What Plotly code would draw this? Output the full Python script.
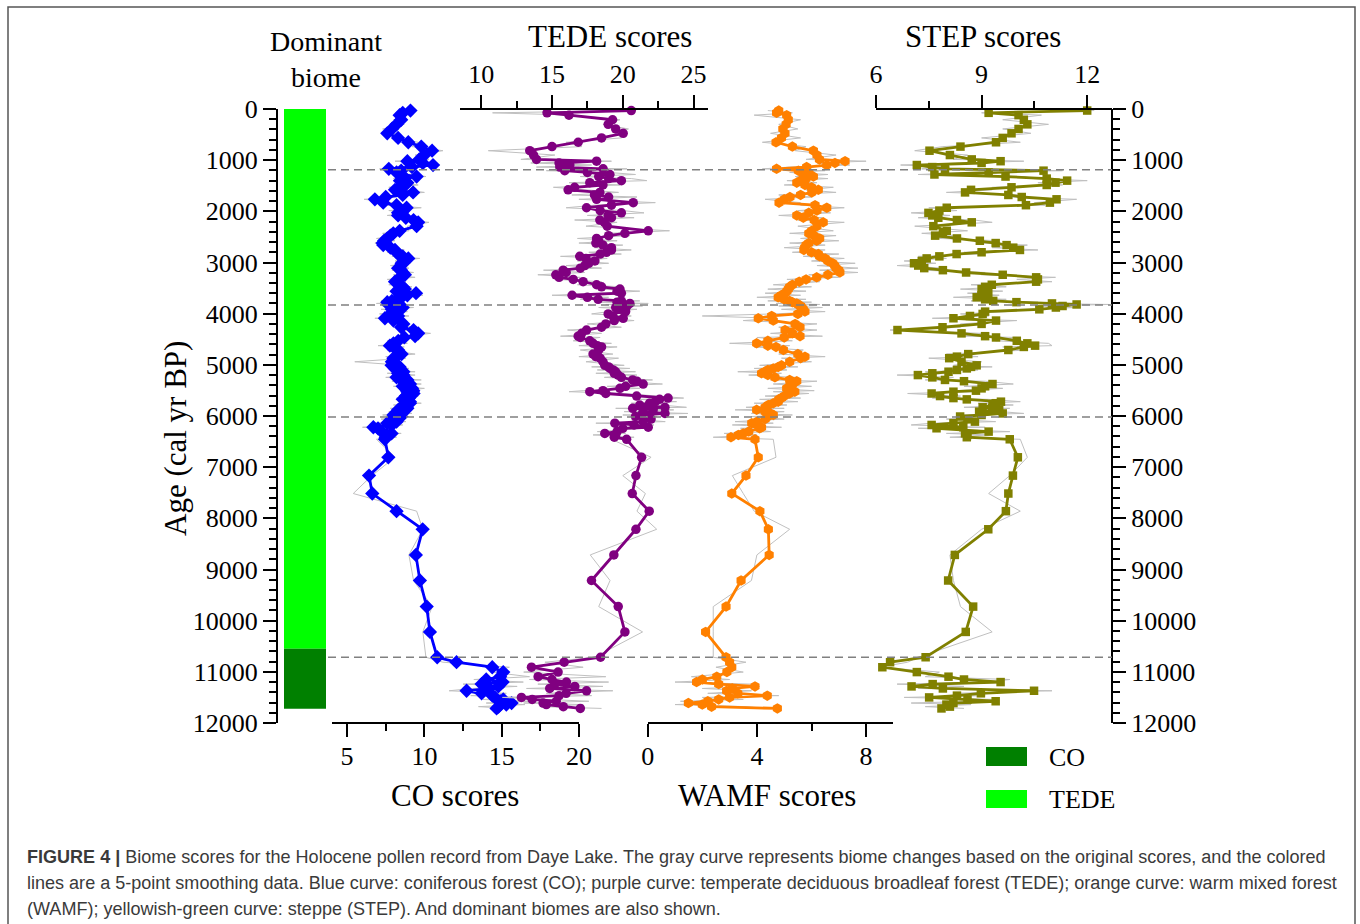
import plotly.graph_objects as go

W, H = 1360, 924

# ---------------- data ----------------
ages = [
    30, 75, 120, 210, 300, 390, 475, 565, 650, 735,
    815, 900, 985, 1020, 1055, 1095, 1135, 1170, 1205, 1240,
    1280, 1320, 1360, 1400, 1440, 1485, 1530, 1580, 1630, 1680,
    1720, 1765, 1830, 1880, 1930, 1985, 2030, 2080, 2125, 2170,
    2215, 2290, 2380, 2430, 2475, 2530, 2575, 2620, 2660, 2710,
    2755, 2800, 2835, 2880, 2920, 2970, 3015, 3060, 3110, 3150,
    3195, 3240, 3290, 3330, 3375, 3435, 3475, 3520, 3560, 3600,
    3640, 3680, 3720, 3750, 3775, 3800, 3820, 3850, 3880, 3915,
    3960, 4005, 4045, 4090, 4135, 4200, 4265, 4320, 4385, 4440,
    4465, 4530, 4580, 4625, 4650, 4710, 4790, 4840, 4870, 4940,
    5010, 5040, 5070, 5100, 5135, 5165, 5200, 5245, 5295, 5320,
    5375, 5420, 5460, 5505, 5525, 5560, 5610, 5650, 5675, 5720,
    5750, 5785, 5830, 5850, 5880, 5915, 5950, 5980, 6010, 6060,
    6110, 6140, 6175, 6220, 6240, 6305, 6340, 6370, 6415, 6455,
    6807, 7165, 7515, 7860, 8214, 8715, 9215, 9725, 10220, 10715,
    10812, 10910, 11005, 11095, 11150, 11200, 11240, 11285, 11325, 11370,
    11420, 11465, 11500, 11540, 11575, 11610, 11640, 11680, 11715,
]

co_smooth = [
    9.1, 8.6, 8.4, 8.5, 8.2, 7.9, 7.6, 8.3, 8.96, 9.8,
    10.5, 10.0, 9.67, 8.9, 9.9, 10.56, 9.2, 7.7, 8.5, 8.2,
    8.53, 9.5, 8.7, 8.42, 8.9, 8.75, 8.4, 8.1, 9.27, 8.6,
    7.5, 6.8, 7.34, 8.2, 8.85, 8.5, 8.3, 8.3, 8.8, 9.3,
    9.6, 9.5, 8.4, 7.99, 7.8, 7.6, 7.4, 7.3, 7.34, 7.8,
    8.1, 8.2, 8.31, 8.6, 8.96, 8.7, 8.53, 8.5, 8.3, 8.5,
    8.6, 8.74, 8.5, 8.3, 8.1, 8.4, 8.6, 8.74, 8.2, 9.46,
    8.9, 8.53, 8.2, 7.9, 7.6, 8.3, 7.67, 8.0, 8.6, 7.9,
    8.2, 7.8, 8.3, 7.45, 8.0, 8.64, 8.5, 9.3, 9.6, 9.4,
    8.7, 8.31, 8.0, 7.77, 8.0, 8.3, 8.53, 8.2, 8.0, 7.9,
    7.88, 8.4, 8.1, 8.5, 8.64, 8.3, 8.64, 8.2, 8.9, 8.6,
    9.07, 8.6, 9.2, 9.28, 8.9, 9.3, 8.8, 9.0, 8.6, 9.07,
    9.07, 8.7, 8.5, 8.9, 8.31, 8.6, 8.3, 8.0, 8.5, 7.9,
    8.2, 7.6, 7.9, 6.7, 7.0, 7.24, 7.88, 7.6, 7.5, 7.45,
    7.67, 6.42, 6.63, 8.2, 9.89, 9.45, 9.71, 10.15, 10.36, 10.83,
    12.08, 14.39, 15.1, 14.9, 14.0, 15.06, 13.7, 14.78, 14.2, 12.73,
    13.7, 14.4, 14.56, 15.1, 14.9, 15.64, 15.3, 14.8, 14.67,
]
co_raw = [
    9.5, 8.2, 8.9, 8.0, 8.7, 7.3, 8.1, 7.9, 9.6, 9.2,
    11.2, 9.4, 10.3, 8.1, 10.6, 11.0, 8.6, 7.1, 9.3, 7.6,
    9.2, 10.1, 8.0, 9.1, 8.2, 9.6, 7.7, 8.8, 10.0, 7.9,
    8.2, 6.1, 7.9, 7.6, 9.8, 7.7, 9.0, 7.6, 9.6, 8.7,
    10.3, 8.9, 9.0, 7.3, 8.4, 6.9, 8.1, 6.8, 7.9, 7.2,
    8.7, 7.6, 9.0, 7.9, 9.7, 8.1, 9.1, 7.8, 9.0, 7.9,
    9.3, 8.0, 9.4, 7.6, 8.8, 7.7, 9.2, 8.1, 9.6, 8.7,
    9.9, 7.8, 8.9, 7.2, 8.4, 6.9, 8.6, 7.3, 9.3, 7.2,
    8.9, 7.1, 9.0, 6.8, 8.8, 7.9, 9.3, 8.6, 10.4, 8.8,
    9.6, 7.6, 8.9, 7.0, 8.7, 7.6, 9.4, 7.5, 8.8, 5.5,
    8.6, 7.7, 9.0, 7.8, 9.4, 7.6, 9.4, 7.5, 9.8, 7.9,
    9.8, 8.0, 10.0, 8.6, 9.7, 8.5, 9.6, 8.2, 9.4, 8.4,
    9.8, 8.0, 9.3, 7.8, 9.1, 7.7, 9.2, 7.3, 9.0, 7.2,
    8.8, 6.9, 8.6, 6.0, 7.8, 6.6, 8.5, 7.0, 8.2, 6.9,
    8.1, 6.6, 5.4, 9.5, 9.9, 9.0, 9.3, 10.5, 9.9, 10.1,
    11.2, 15.5, 14.3, 16.8, 13.2, 16.4, 12.5, 16.0, 13.1, 11.6,
    15.3, 13.0, 16.2, 13.8, 16.8, 14.0, 16.5, 13.5, 15.4,
]

tede_smooth = [
    20.6, 14.65, 16.2, 19.28, 18.97, 19.5, 20.03, 18.5, 16.85, 15.0,
    13.43, 13.7, 13.9, 18.15, 15.5, 16.26, 15.55, 18.61, 15.9, 17.5,
    19.09, 18.3, 19.0, 19.9, 17.67, 18.6, 16.6, 16.14, 18.38, 18.0,
    19.0, 18.15, 20.74, 19.2, 17.44, 18.4, 19.9, 18.97, 19.2, 18.38,
    18.7, 18.9, 21.8, 20.15, 19.0, 18.15, 18.3, 18.1, 18.6, 19.2,
    19.2, 18.85, 18.4, 16.96, 17.4, 18.03, 17.6, 17.32, 17.0, 15.79,
    16.0, 15.27, 15.5, 16.5, 17.2, 18.15, 18.5, 19.8, 19.6, 19.9,
    16.42, 17.5, 18.26, 19.9, 19.6, 20.5, 19.9, 20.3, 19.5, 19.8,
    20.2, 18.97, 19.3, 20.03, 19.4, 18.8, 18.5, 17.44, 17.1, 16.85,
    17.0, 17.67, 17.9, 18.2, 18.5, 18.3, 17.9, 18.1, 18.4, 18.6,
    18.73, 19.0, 19.1, 19.32, 19.5, 19.4, 19.67, 19.9, 20.7, 21.0,
    21.44, 20.2, 19.8, 18.6, 17.67, 18.8, 20.98, 23.2, 22.6, 22.3,
    21.9, 21.2, 22.98, 20.7, 22.15, 21.44, 22.98, 21.33, 20.9, 22.0,
    21.44, 19.44, 20.8, 21.8, 20.0, 19.6, 18.73, 19.5, 19.4, 20.27,
    21.33, 20.93, 20.67, 21.87, 20.93, 19.37, 17.79, 19.68, 20.15, 18.43,
    15.86, 13.55, 15.43, 14.02, 15.0, 16.02, 15.2, 16.61, 14.84, 17.44,
    16.0, 15.5, 12.84, 13.6, 15.3, 14.37, 14.6, 15.8, 17.0,
]
tede_raw = [
    20.8, 10.8, 16.5, 19.8, 18.6, 20.4, 19.5, 19.9, 16.0, 17.1,
    10.5, 15.2, 12.8, 19.2, 13.5, 17.8, 13.9, 20.3, 14.6, 19.0,
    20.9, 17.0, 20.6, 21.7, 16.2, 19.8, 15.1, 17.4, 19.7, 16.4,
    21.0, 16.9, 22.3, 18.0, 16.0, 20.0, 21.5, 17.5, 20.8, 16.6,
    19.6, 17.4, 23.3, 19.0, 20.5, 16.8, 19.6, 16.9, 20.0, 18.0,
    20.6, 17.6, 19.9, 15.6, 18.9, 16.8, 19.0, 16.0, 18.5, 14.4,
    17.3, 14.0, 17.0, 15.2, 18.5, 16.8, 20.0, 18.4, 21.2, 18.6,
    15.0, 19.0, 17.0, 21.2, 18.4, 21.8, 18.8, 21.4, 18.3, 21.0,
    19.0, 17.8, 20.6, 18.9, 20.8, 17.5, 19.9, 16.1, 18.5, 15.6,
    18.4, 16.5, 19.2, 16.9, 19.6, 17.0, 19.3, 16.9, 19.7, 17.4,
    20.1, 17.8, 20.5, 18.2, 20.9, 18.1, 21.0, 18.7, 22.1, 19.8,
    22.8, 18.9, 21.2, 17.2, 16.2, 20.1, 22.4, 24.3, 21.2, 23.8,
    20.6, 22.7, 24.5, 19.5, 23.6, 20.1, 24.6, 20.0, 22.4, 20.6,
    23.0, 18.1, 22.2, 20.4, 21.5, 18.2, 20.2, 17.9, 20.8, 19.2,
    22.0, 20.0, 21.6, 21.0, 22.4, 17.7, 19.1, 18.3, 21.4, 18.0,
    14.5, 17.2, 13.0, 18.8, 13.4, 19.0, 14.0, 18.6, 13.2, 19.3,
    14.6, 17.8, 11.5, 15.2, 17.6, 13.0, 17.2, 14.2, 18.5,
]

wamf_smooth = [
    4.8, 4.72, 5.09, 5.15, 5.07, 4.95, 5.03, 4.9, 4.70, 5.3,
    6.07, 6.2, 6.29, 7.23, 6.86, 6.56, 5.82, 4.72, 5.52, 5.9,
    5.70, 6.07, 5.8, 5.6, 5.46, 5.76, 6.0, 6.25, 6.01, 5.6,
    5.21, 5.0, 4.81, 6.13, 6.56, 6.2, 5.9, 5.46, 5.7, 6.1,
    6.43, 6.2, 6.01, 5.9, 6.1, 6.3, 6.19, 5.9, 5.8, 5.75,
    5.72, 6.0, 6.25, 6.3, 6.5, 6.6, 6.78, 6.85, 6.9, 7.0,
    7.04, 6.6, 6.19, 5.8, 5.55, 5.3, 5.2, 5.15, 5.1, 5.03,
    4.9, 4.78, 5.0, 5.2, 5.3, 5.46, 5.5, 5.6, 5.65, 5.7,
    5.76, 5.5, 4.54, 4.05, 4.6, 5.4, 5.58, 5.03, 5.3, 5.58,
    5.0, 4.4, 3.99, 4.4, 4.7, 4.97, 5.5, 5.76, 5.6, 5.2,
    4.9, 4.78, 4.6, 4.4, 4.3, 4.17, 4.4, 4.66, 5.2, 5.46,
    5.3, 5.2, 5.09, 5.3, 5.39, 5.2, 5.0, 4.9, 4.8, 4.78,
    4.6, 4.42, 4.3, 4.36, 3.99, 4.3, 4.5, 4.60, 4.4, 4.3,
    4.0, 3.81, 4.0, 4.17, 4.1, 3.7, 3.5, 3.32, 3.05, 3.93,
    4.05, 3.60, 3.08, 4.11, 4.42, 4.45, 3.42, 2.87, 2.12, 2.87,
    3.0, 3.08, 2.9, 2.53, 2.0, 1.79, 2.6, 3.93, 3.1, 2.89,
    3.3, 4.38, 3.0, 2.6, 2.2, 1.49, 2.0, 2.34, 4.75,
]
wamf_raw = [
    4.4, 5.3, 3.9, 5.6, 4.8, 5.5, 4.5, 5.6, 4.2, 5.8,
    5.4, 6.9, 5.8, 8.0, 6.2, 7.4, 5.2, 4.2, 6.5, 5.2,
    6.6, 5.4, 6.6, 5.1, 6.2, 5.0, 6.8, 5.8, 6.9, 4.8,
    6.0, 4.3, 5.6, 5.6, 7.2, 5.5, 6.7, 4.8, 6.4, 5.5,
    7.2, 5.5, 6.8, 5.2, 6.9, 5.6, 7.0, 5.2, 6.5, 5.0,
    6.5, 5.3, 7.0, 5.7, 7.2, 6.0, 7.6, 6.2, 7.7, 6.3,
    7.7, 5.9, 7.0, 5.1, 6.3, 4.6, 6.0, 4.4, 5.8, 4.3,
    5.6, 4.0, 5.8, 4.4, 6.0, 4.7, 6.3, 4.8, 6.4, 4.9,
    6.5, 4.6, 2.0, 4.7, 3.5, 6.2, 4.8, 6.2, 4.5, 6.4,
    4.0, 5.3, 3.0, 5.2, 3.9, 5.7, 4.8, 6.5, 4.9, 6.0,
    4.1, 5.5, 3.9, 5.1, 3.3, 4.9, 3.7, 5.4, 4.5, 6.2,
    4.6, 6.0, 4.4, 6.1, 4.6, 5.9, 4.3, 5.6, 4.1, 5.5,
    3.9, 5.1, 3.6, 5.0, 3.2, 5.0, 3.8, 5.3, 3.8, 5.0,
    3.2, 4.6, 3.1, 4.9, 3.4, 4.5, 2.8, 4.0, 2.4, 4.6,
    4.7, 3.1, 3.5, 3.9, 5.2, 4.0, 3.8, 2.4, 2.4, 2.4,
    3.6, 2.5, 3.5, 1.6, 3.0, 1.0, 3.8, 4.1, 2.0, 3.8,
    2.2, 4.8, 2.0, 3.5, 1.2, 2.4, 1.0, 3.6, 4.3,
]

step_smooth = [
    12.0, 9.2, 10.05, 10.2, 10.3, 10.05, 9.85, 9.6, 9.41, 8.4,
    7.52, 8.1, 8.72, 9.54, 9.0, 7.16, 7.6, 7.96, 10.76, 9.2,
    7.66, 9.68, 10.85, 11.43, 11.1, 10.85, 9.85, 8.7, 8.53, 9.76,
    10.14, 11.13, 10.94, 10.26, 8.01, 7.8, 7.49, 7.6, 7.77, 8.3,
    8.72, 7.63, 8.01, 7.9, 7.68, 8.3, 8.95, 9.4, 9.71, 9.9,
    10.09, 9.0, 8.29, 7.8, 7.44, 7.3, 7.08, 7.2, 7.37, 7.9,
    8.56, 9.6, 10.55, 10.6, 10.55, 9.29, 9.1, 9.0, 9.1, 9.19,
    9.0, 8.86, 9.1, 9.33, 9.99, 11.0, 11.7, 11.3, 11.11, 10.64,
    9.10, 9.03, 8.67, 8.20, 9.41, 9.00, 7.89, 6.61, 8.43, 9.1,
    9.41, 10.0, 10.3, 10.52, 10.2, 9.76, 8.62, 8.3, 8.08, 8.43,
    8.86, 8.7, 8.58, 8.3, 8.06, 7.6, 7.19, 7.6, 7.96, 8.5,
    9.31, 9.1, 9.0, 8.84, 8.2, 7.58, 7.82, 8.2, 8.58, 9.55,
    9.4, 9.31, 9.03, 9.3, 9.5, 8.93, 9.60, 9.0, 8.39, 8.6,
    8.81, 8.2, 7.58, 8.48, 7.72, 9.2, 8.53, 8.6, 8.58, 9.80,
    10.03, 9.89, 9.76, 9.69, 9.19, 8.24, 8.05, 8.76, 8.55, 7.41,
    6.40, 6.18, 7.16, 8.06, 8.5, 9.54, 7.61, 7.01, 7.9, 10.49,
    8.98, 8.3, 7.51, 8.6, 9.40, 8.2, 8.0, 8.1, 7.86,
]
step_raw = [
    12.2, 9.0, 10.7, 9.6, 10.9, 9.6, 10.4, 9.0, 10.1, 7.9,
    7.1, 8.6, 8.2, 10.2, 8.5, 6.7, 8.1, 7.3, 11.3, 8.7,
    7.2, 10.2, 10.5, 12.0, 10.6, 11.3, 9.3, 9.3, 8.0, 10.2,
    9.7, 11.7, 10.5, 10.8, 7.5, 8.3, 7.0, 8.1, 7.2, 8.8,
    9.3, 7.1, 8.6, 7.3, 8.3, 7.8, 9.5, 8.9, 10.3, 9.3,
    10.6, 8.5, 8.9, 7.2, 8.0, 6.8, 7.7, 6.6, 7.9, 7.3,
    9.1, 9.0, 11.1, 10.0, 11.0, 8.7, 9.7, 8.4, 9.6, 8.6,
    9.5, 8.2, 9.7, 8.7, 10.6, 10.4, 12.6, 10.7, 11.7, 10.1,
    9.7, 8.4, 9.2, 7.6, 10.0, 8.4, 8.4, 6.4, 9.0, 8.5,
    10.0, 9.4, 10.9, 11.0, 9.6, 10.3, 8.0, 8.9, 7.5, 9.0,
    8.2, 9.3, 8.0, 8.9, 7.4, 8.2, 6.6, 8.2, 7.4, 9.1,
    9.9, 8.5, 9.6, 8.3, 8.8, 6.9, 8.4, 7.6, 9.2, 10.1,
    8.9, 9.9, 8.5, 9.8, 8.9, 9.5, 10.2, 8.4, 9.0, 8.0,
    9.4, 7.6, 7.0, 9.1, 7.2, 9.8, 8.0, 9.2, 8.1, 10.1,
    10.3, 9.8, 9.2, 10.1, 9.0, 8.1, 8.2, 8.4, 9.3, 7.2,
    6.9, 6.1, 7.8, 7.4, 9.8, 9.1, 6.6, 8.5, 7.2, 11.0,
    8.2, 9.1, 6.8, 9.4, 8.8, 7.0, 8.7, 7.4, 8.5,
]

boundary_ages = [1185, 3830, 6020, 10715]

biome_names = ["TEDE", "CO"]
biome_start = [0, 10550]
biome_end = [10550, 11720]
biome_colors = ["#00ff00", "#008000"]

for nm, arr in [("co", co_smooth), ("co_raw", co_raw), ("tede", tede_smooth),
                ("tede_raw", tede_raw), ("wamf", wamf_smooth), ("wamf_raw", wamf_raw),
                ("step", step_smooth), ("step_raw", step_raw)]:
    assert len(arr) == len(ages), (nm, len(arr), len(ages))

# ---------------- helpers ----------------
def px(x):
    return x / W

def py(y):
    return 1 - y / H

SERIF = "Liberation Serif"
SANS = "Liberation Sans"
GRAY = "#c0c0c0"

y_dom = [py(723), py(109)]

fig = go.Figure()

# dominant biome bar
fig.add_trace(go.Bar(
    x=[0.5, 0.5], y=[e - s for s, e in zip(biome_start, biome_end)], base=biome_start,
    width=1, marker=dict(color=biome_colors, line=dict(width=0)),
    xaxis="x5", yaxis="y", showlegend=False, hoverinfo="skip",
))

series = [
    ("x", "y", co_raw, co_smooth, "#0000ff", "diamond", 11),
    ("x2", "y", tede_raw, tede_smooth, "#800080", "circle", 9.5),
    ("x3", "y", wamf_raw, wamf_smooth, "#ff8000", "hexagon", 10.5),
    ("x4", "y2", step_raw, step_smooth, "#808000", "square", 8.5),
]
for xa, ya, raw, sm, col, sym, ms in series:
    fig.add_trace(go.Scatter(x=raw, y=ages, mode="lines", xaxis=xa, yaxis=ya,
                             line=dict(color=GRAY, width=1), showlegend=False,
                             hoverinfo="skip"))
for xa, ya, raw, sm, col, sym, ms in series:
    fig.add_trace(go.Scatter(x=sm, y=ages, mode="lines+markers", xaxis=xa, yaxis=ya,
                             line=dict(color=col, width=2.8),
                             marker=dict(symbol=sym, size=ms, color=col, line=dict(width=0)),
                             showlegend=False, cliponaxis=False))

axis_font = dict(family=SERIF, size=26, color="black")
common_x = dict(showline=True, linecolor="black", linewidth=2, ticks="outside",
                ticklen=13, tickwidth=2, tickcolor="black", showgrid=False,
                zeroline=False, tickfont=axis_font, anchor="free", automargin=False)
common_y = dict(range=[12000, 0], anchor="free", showline=True, linecolor="black", linewidth=2,
                ticks="outside", ticklen=13, tickwidth=2, tickcolor="black",
                tick0=0, dtick=1000, tickformat="d", showgrid=False, zeroline=False,
                tickfont=axis_font, automargin=False,
                minor=dict(tick0=0, dtick=200, ticks="outside", ticklen=7, tickwidth=2,
                           tickcolor="black"))

fig.update_layout(
    width=W, height=H, margin=dict(l=0, r=0, t=0, b=0, pad=0, autoexpand=False),
    paper_bgcolor="white", plot_bgcolor="rgba(0,0,0,0)",
    barmode="overlay", showlegend=False,
    xaxis=dict(domain=[px(331.6), px(579)], range=[4, 20], tick0=0, dtick=5,
               side="bottom", position=y_dom[0], ticklabelstandoff=-3,
               minor=dict(tick0=0, dtick=2.5, ticks="outside", ticklen=7, tickwidth=2, tickcolor="black"),
               **common_x),
    xaxis2=dict(domain=[px(460), px(707.7)], range=[8.5, 26.0], tick0=0, dtick=5,
                side="top", position=y_dom[1], ticklabelstandoff=2,
                minor=dict(tick0=0, dtick=2.5, ticks="outside", ticklen=7, tickwidth=2, tickcolor="black"),
                **common_x),
    xaxis3=dict(domain=[px(647.7), px(893.4)], range=[0, 9], tick0=0, dtick=4,
                side="bottom", position=y_dom[0], ticklabelstandoff=-3,
                minor=dict(tick0=0, dtick=2, ticks="outside", ticklen=7, tickwidth=2, tickcolor="black"),
                **common_x),
    xaxis4=dict(domain=[px(876), px(1112)], range=[6, 12.705], tick0=0, dtick=3,
                side="top", position=y_dom[1], ticklabelstandoff=2,
                minor=dict(tick0=0, dtick=1.5, ticks="outside", ticklen=7, tickwidth=2, tickcolor="black"),
                **common_x),
    xaxis5=dict(domain=[px(284), px(326)], range=[0, 1], visible=False,
                anchor="free", position=y_dom[0]),
    yaxis=dict(domain=y_dom, position=px(277), side="left", **common_y),
    yaxis2=dict(domain=y_dom, position=px(1112), overlaying="y", side="right", **common_y),
)

shapes = []
for a in boundary_ages:
    shapes.append(dict(type="line", xref="paper", yref="y", x0=px(328), x1=px(1112),
                       y0=a, y1=a, line=dict(color="#808080", width=1.5, dash="8px,5px"),
                       layer="above"))
# legend swatches
shapes.append(dict(type="rect", xref="paper", yref="paper", x0=px(986), x1=px(1027),
                   y0=py(766), y1=py(747), fillcolor="#008000", line=dict(width=0)))
shapes.append(dict(type="rect", xref="paper", yref="paper", x0=px(986), x1=px(1027),
                   y0=py(808), y1=py(790), fillcolor="#00ff00", line=dict(width=0)))
# outer frame
shapes.append(dict(type="rect", xref="paper", yref="paper", x0=px(8), x1=px(1355),
                   y0=py(940), y1=py(7), line=dict(color="#555555", width=1.5),
                   fillcolor="rgba(0,0,0,0)"))
fig.update_layout(shapes=shapes)

ann = []
def text(x, y, s, size, xanchor="center", angle=0, family=SERIF, color="black"):
    ann.append(dict(x=px(x), y=py(y), xref="paper", yref="paper", text=s, showarrow=False,
                    xanchor=xanchor, yanchor="middle", textangle=angle,
                    font=dict(family=family, size=size, color=color)))

text(326, 41, "Dominant", 28)
text(326, 77, "biome", 28)
text(610, 37, "TEDE scores", 31)
text(983, 37, "STEP scores", 31)
text(455, 795, "CO scores", 31)
text(767, 795, "WAMF scores", 31)
text(175, 438, "Age (cal yr BP)", 31, angle=-90)
text(1047, 757, "CO", 26, xanchor="left")
text(1047, 799, "TEDE", 26, xanchor="left")

cap_lines = [
    "<b>FIGURE 4 |</b> Biome scores for the Holocene pollen record from Daye Lake. The gray curve represents biome changes based on the original scores, and the colored",
    "lines are a 5-point smoothing data. Blue curve: coniferous forest (CO); purple curve: temperate deciduous broadleaf forest (TEDE); orange curve: warm mixed forest",
    "(WAMF); yellowish-green curve: steppe (STEP). And dominant biomes are also shown.",
]
for i, s in enumerate(cap_lines):
    text(25, 857 + 26 * i, s, 18.05, xanchor="left", family=SANS, color="#3a3a3a")

fig.update_layout(annotations=ann)
fig.write_html("out.html")
